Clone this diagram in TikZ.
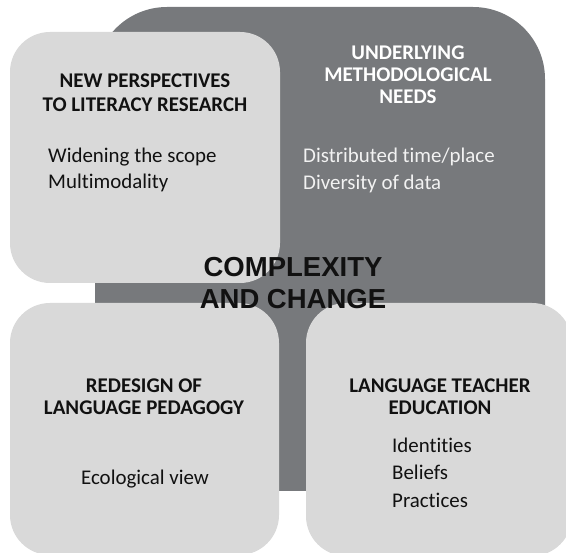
\documentclass[tikz,border=0pt]{standalone}
\usepackage{fontspec}
\setmainfont{Carlito}[Ligatures=NoCommon]
\newfontfamily\centrefont{Liberation Sans}

\definecolor{darkpanel}{HTML}{77797C}
\definecolor{lightpanel}{HTML}{D9D9D9}
\definecolor{inktext}{HTML}{111111}
\definecolor{paletext}{HTML}{F2F2F2}

\tikzset{
    heading/.style={anchor=base, inner sep=0pt, text=inktext,
        font=\bfseries\fontsize{20.9}{24}\selectfont},
    item/.style={anchor=base west, inner sep=0pt, text=inktext,
        font=\fontsize{20.9}{24}\selectfont},
}

\begin{document}
\begin{tikzpicture}[x=1pt, y=-1pt]

    \clip (0,0) rectangle (566,553);

    % Background panel
    \fill[darkpanel, rounded corners=72pt] (95,7) rectangle (545,491);
    \foreach \txt [count=\i] in {UNDERLYING, METHODOLOGICAL, NEEDS}
        \node[heading, text=white] (needs\i) at (408, {59.3+22*(\i-1)}) {\txt};
    \foreach \txt [count=\i] in {Distributed time/place, Diversity of data}
        \node[item, text=paletext] (needsitem\i) at (303, {162.7+26.5*(\i-1)}) {\txt};

    % Top left panel
    \fill[lightpanel, rounded corners=40pt] (10,32) rectangle (280,283);
    \foreach \txt [count=\i] in {NEW PERSPECTIVES, TO LITERACY RESEARCH}
        \node[heading] (persp\i) at (145, {87.3+24.4*(\i-1)}) {\txt};
    \foreach \txt [count=\i] in {Widening the scope, Multimodality}
        \node[item] (perspitem\i) at (48, {162.7+25.6*(\i-1)}) {\txt};

    % Bottom left panel
    \fill[lightpanel, rounded corners=40pt] (10,303) rectangle (279,555);
    \foreach \txt [count=\i] in {REDESIGN OF, LANGUAGE PEDAGOGY}
        \node[heading] (pedag\i) at (144, {392.7+21.6*(\i-1)}) {\txt};
    \node[item, anchor=base] (pedagitem) at (145, 485) {Ecological view};

    % Bottom right panel
    \fill[lightpanel, rounded corners=40pt] (306,303) rectangle (572,556);
    \foreach \txt [count=\i] in {LANGUAGE TEACHER, EDUCATION}
        \node[heading] (teach\i) at (440, {392.7+21.6*(\i-1)}) {\txt};
    \foreach \txt [count=\i] in {Identities, Beliefs, Practices}
        \node[item] (teachitem\i) at (392, {452.3+27.5*(\i-1)}) {\txt};

    % Centre label
    \foreach \txt [count=\i] in {COMPLEXITY, AND CHANGE}
        \node[heading, font=\centrefont\bfseries\fontsize{27.5}{32}\selectfont]
            (centre\i) at (293, {276.7+31.6*(\i-1)}) {\txt};

\end{tikzpicture}
\end{document}
